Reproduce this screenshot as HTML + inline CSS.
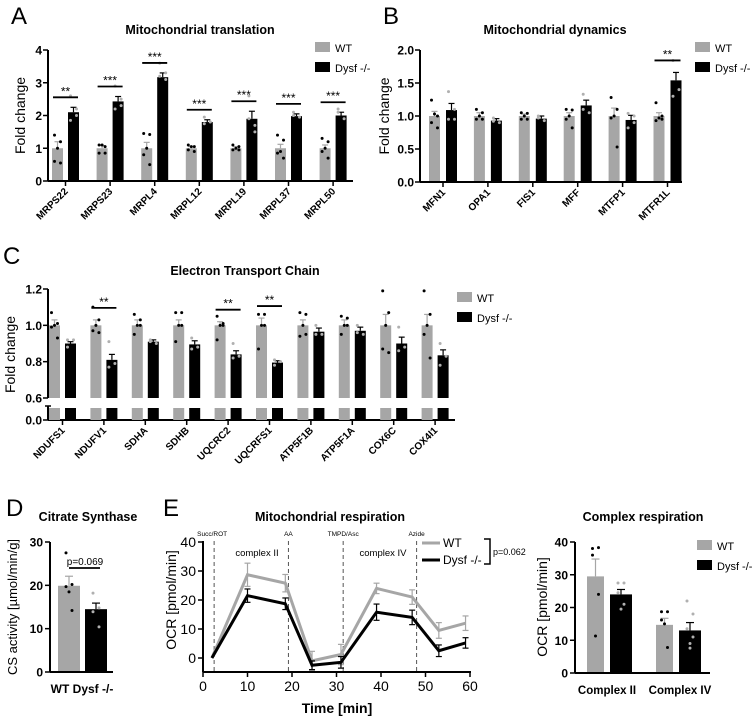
<!DOCTYPE html>
<html><head><meta charset="utf-8"><style>
html,body{margin:0;padding:0;background:#fff}
svg{display:block}
text{font-family:"Liberation Sans Narrow","Liberation Sans",sans-serif}
</style></head><body>
<svg id="fig" width="753" height="720" viewBox="0 0 753 720"></svg>
<script>
// ---------- Data ----------
const catsA=["MRPS22","MRPS23","MRPL4","MRPL12","MRPL19","MRPL37","MRPL50"];
const wtA=[1,1,1,1,1,1,1];
const wtErrA=[0.2,0.08,0.18,0.05,0.05,0.12,0.1];
const koA=[2.1,2.43,3.17,1.8,1.9,1.98,2.0];
const koErrA=[0.15,0.15,0.13,0.07,0.23,0.07,0.1];
const wtDotsA=[[1.4,1.2,0.6,0.55,1.0],[1.1,1.05,0.85,0.85,1.1],[1.45,1.42,0.8,0.5,1.0],[1.1,1.05,0.95,0.9,1.05],[1.1,1.05,0.95,0.95,1.0],[1.4,1.25,0.85,0.7,0.9],[1.3,1.2,0.9,0.7,1.0]];
const koDotsA=[[2.6,2.0,1.85,2.2],[2.9,2.3,2.2,2.5],[3.6,3.1,3.2,3.3],[1.95,1.8,1.75],[2.6,1.5,1.9,1.7],[2.1,1.95,2.0],[2.2,1.9,2.1]];
const sigA=["**","***","***","***","***","***","***"];
const ticksA=[0,1,2,3,4];

const catsB=["MFN1","OPA1","FIS1","MFF","MTFP1","MTFR1L"];
const wtB=[1,1,1,1,1,1];
const wtErrB=[0.07,0.05,0.03,0.05,0.12,0.05];
const koB=[1.09,0.93,0.96,1.16,0.94,1.54];
const koErrB=[0.1,0.03,0.04,0.08,0.07,0.12];
const wtDotsB=[[1.24,1.0,0.9,0.82,1.03],[1.1,1.05,0.95,0.95,1.0],[1.05,1.04,0.95,0.95,1.0],[1.1,1.09,0.95,0.82,1.0],[1.28,1.1,0.97,0.53,1.0],[1.2,1.0,0.93,0.95,0.97]];
const koDotsB=[[1.37,0.95,0.95,1.1],[0.97,0.9,0.92],[1.0,0.93,0.97],[1.33,1.05,1.1],[1.04,0.9,0.82,1.0],[1.84,1.4,1.3]];
const sigB=["","","","","","**"];
const ticksB=[0,0.5,1.0,1.5,2.0];

const catsC=["NDUFS1","NDUFV1","SDHA","SDHB","UQCRC2","UQCRFS1","ATP5F1B","ATP5F1A","COX6C","COX4I1"];
const wtC=[1,1,1,1,1,1,1,1,1,1];
const wtErrC=[0.03,0.03,0.03,0.03,0.02,0.04,0.03,0.03,0.06,0.06];
const koC=[0.90,0.81,0.91,0.895,0.84,0.795,0.965,0.97,0.90,0.835];
const koErrC=[0.01,0.03,0.01,0.02,0.02,0.01,0.02,0.02,0.035,0.03];
const wtDotsC=[[1.07,1.01,0.99,0.93,1.0],[1.1,1.03,0.97,0.96,1.0],[1.06,1.03,0.95,1.0,1.0],[1.07,1.07,0.91,1.0,1.0],[1.05,1.01,0.92,1.0,1.0],[1.06,1.06,0.87,1.0,1.0],[1.07,1.06,0.94,0.95,1.0],[1.05,1.04,0.95,1.0,1.0],[1.19,1.07,0.87,0.85,1.0],[1.19,1.06,0.95,0.82,1.0]];
const koDotsC=[[0.92,0.92,0.88],[0.91,0.79,0.77],[0.92,0.9,0.91],[0.93,0.88,0.87],[0.9,0.83,0.82],[0.81,0.8,0.78],[1.0,0.95,0.95],[1.0,0.95,0.96],[0.99,0.88,0.86],[0.9,0.83,0.78]];
const sigC=["","**","","","**","**","","","",""];
const ticksC=[0.6,0.8,1.0,1.2];

const catsD=["WT","Dysf -/-"];
const valD=[19.9,14.5];
const errD=[2.2,1.4];
const dotsD=[[27.5,20.2,19.7,14.2,18.5],[18.2,14.8,13.9,10.4]];
const ticksD=[0,10,20,30];

const timeE=[2,10,18.5,24.5,31,39,47,53,59];
const wtE=[0,28.7,25.8,-1,1.2,24,21,9.5,12];
const wtErrE=[0,4,3,3.3,3.5,1.8,2.5,2.7,2.5];
const koE=[0,21.5,18.7,-2.5,-1.5,15.8,14,2.5,5.2];
const koErrE=[0,2.3,2,1.5,2,2.8,2.5,2,1.8];
const injE=[2.5,19.2,31.5,48];
const injLabE=["Succ/ROT","AA","TMPD/Asc","Azide"];
const ticksEy=[0,10,20,30,40];
const ticksEx=[0,10,20,30,40,50,60];

const catsF=["Complex II","Complex IV"];
const wtF=[29.5,14.7];
const wtErrF=[5.3,2.0];
const koF=[24,13];
const koErrF=[1.5,2.4];
const wtDotsF=[[38,38.3,36,24,11.3],[18.7,18.7,16.2,7.8,15]];
const koDotsF=[[27.5,27.5,24.5,21,19.5],[22,18,13.5,11,9,7.6]];
const ticksF=[0,10,20,30,40];

// ---------- helpers ----------
const NS="http://www.w3.org/2000/svg";
const svg=document.getElementById('fig');
function mk(tag,attrs,parent,txt){const e=document.createElementNS(NS,tag);for(const k in attrs)e.setAttribute(k,attrs[k]);if(txt!==undefined)e.textContent=txt;(parent||svg).appendChild(e);return e;}
function grp(name){const g=mk('g',{});return g;}
const GRAY="#a6a6a6";

function legend(g,x,y){
  const a=mk('rect',{x:x,y:y,width:15,height:10,fill:GRAY},g);
  
  const t1=mk('text',{x:x+20,y:y+10,'font-size':11},g,'WT');
  
  const b=mk('rect',{x:x,y:y+20,width:15,height:10,fill:'#000'},g);
  
  const t2=mk('text',{x:x+20,y:y+30,'font-size':11},g,'Dysf -/-');
  
}
function errBar(g,cx,yTop,yVal,col,w){
  mk('line',{x1:cx,x2:cx,y1:yVal,y2:yTop,stroke:col,'stroke-width':1.2},g);
  mk('line',{x1:cx-w,x2:cx+w,y1:yTop,y2:yTop,stroke:col,'stroke-width':1.2},g);
}
function dots(g,cx,vals,ys,col){
  vals.forEach((v,i)=>{const off=[-3,3,-3,3,0,0][i%6];
    const d=mk('circle',{cx:cx+off,cy:ys(v),r:1.5,fill:col},g);
    });
}

function barPanel(o){
  const g=grp(o.name);
  const sb=o.scaleBase||o.yBase;
  const ys=v=>o.y0+(o.yMax-v)/(o.yMax-o.yMin)*(sb-o.y0);
  o.cats.forEach((c,i)=>{
    const cx=o.gx0+i*o.gsp;
    const wx=cx-o.bw-o.gap/2, kx=cx+o.gap/2;
    const base=sb;
    const r1=mk('rect',{x:wx,y:ys(o.wt[i]),width:o.bw,height:base-ys(o.wt[i]),fill:GRAY},g);
    
    const r2=mk('rect',{x:kx,y:ys(o.ko[i]),width:o.bw,height:base-ys(o.ko[i]),fill:'#000'},g);
    
    errBar(g,wx+o.bw/2,ys(o.wt[i]+o.wtErr[i]),ys(o.wt[i]),GRAY,3);
    errBar(g,kx+o.bw/2,ys(o.ko[i]+o.koErr[i]),ys(o.ko[i]),'#000',3);
    dots(g,wx+o.bw/2,o.wtDots[i],ys,'#000');
    dots(g,kx+o.bw/2,o.koDots[i],ys,'#b0b0b0');
    if(o.sig&&o.sig[i]){
      const top=Math.max(o.wt[i]+o.wtErr[i],o.ko[i]+o.koErr[i]);
      const sy=ys(top)-o.sigOff;
      const sl=mk('line',{x1:wx+1,x2:kx+o.bw-1,y1:sy,y2:sy,stroke:'#000','stroke-width':1.8},g);
      
      const st=mk('text',{x:cx,y:sy-2,'font-size':12,'text-anchor':'middle'},g,o.sig[i]);
      
    }
    const axY=o.yBase;
    mk('line',{x1:cx,x2:cx,y1:axY,y2:axY+5,stroke:'#000','stroke-width':1.5},g);
    const lt=mk('text',{x:cx+3,y:axY+11,'font-size':10,'font-weight':'bold','text-anchor':'end',transform:`rotate(-45 ${cx+3} ${axY+11})`},g,c);
    
  });
  mk('line',{x1:o.ax,x2:o.ax,y1:o.y0,y2:o.yAxisEnd||o.yBase,stroke:'#000','stroke-width':2},g);
  mk('line',{x1:o.ax,x2:o.axEnd,y1:o.yBase,y2:o.yBase,stroke:'#000','stroke-width':2},g);
  o.ticks.forEach((t,i)=>{const y=ys(t);
    mk('line',{x1:o.ax-5,x2:o.ax,y1:y,y2:y,stroke:'#000','stroke-width':1.5},g);
    const tl=mk('text',{x:o.ax-6,y:y+4.5,'font-size':12,'font-weight':'bold','text-anchor':'end'},g,o.tickLab?o.tickLab[i]:String(t));
    });
  const my=(o.y0+o.yBase)/2;
  const yt=mk('text',{x:o.ytX,y:my,'font-size':14,'text-anchor':'middle',transform:`rotate(-90 ${o.ytX} ${my})`},g,o.yTitle);
  
  const ti=mk('text',{x:o.tx,y:o.ty,'font-size':12.5,'font-weight':'bold','text-anchor':'middle'},g,o.title);
  
  const pl=mk('text',{x:o.lx,y:o.ly,'font-size':24},g,o.letter);
  
  legend(g,o.legX,o.legY);
  return {g,ys};
}

// Panel A
barPanel({name:'panel-a',cats:catsA,wt:wtA,wtErr:wtErrA,ko:koA,koErr:koErrA,wtDots:wtDotsA,koDots:koDotsA,sig:sigA,
 ticks:ticksA,yMin:0,yMax:4,y0:50,yBase:181,ax:48,axEnd:353,gx0:65.5,gsp:44.6,bw:11,gap:5,sigOff:10,
 ytX:25,yTitle:'Fold change',title:'Mitochondrial translation',tx:200,ty:34,letter:'A',lx:11,ly:24,legX:315,legY:42});
// Panel B
barPanel({name:'panel-b',cats:catsB,wt:wtB,wtErr:wtErrB,ko:koB,koErr:koErrB,wtDots:wtDotsB,koDots:koDotsB,sig:sigB,
 ticks:ticksB,tickLab:['0.0','0.5','1.0','1.5','2.0'],yMin:0,yMax:2,y0:50,yBase:182,ax:420,axEnd:682,gx0:443,gsp:44.9,bw:11,gap:6,sigOff:12,
 ytX:389,yTitle:'Fold change',title:'Mitochondrial dynamics',tx:555,ty:34,letter:'B',lx:383,ly:24,legX:695,legY:42});
// Panel C (broken axis)
(function(){
  const r=barPanel({name:'panel-c',cats:catsC,wt:wtC,wtErr:wtErrC,ko:koC,koErr:koErrC,wtDots:wtDotsC,koDots:koDotsC,sig:sigC,
   ticks:ticksC,tickLab:['0.6','0.8','1.0','1.2'],yMin:0.6,yMax:1.2,y0:289,yBase:420,scaleBase:398,yAxisEnd:398,ax:48,axEnd:455,gx0:62.5,gsp:41.4,bw:11,gap:5,sigOff:12,
   ytX:15,yTitle:'Fold change',title:'Electron Transport Chain',tx:245,ty:275,letter:'C',lx:3,ly:264,legX:457,legY:292});
  const g=r.g;
  catsC.forEach((c,i)=>{const cx=62.5+i*41.4;
    mk('rect',{x:cx-11-2.5,y:408,width:11,height:12,fill:GRAY},g);
    mk('rect',{x:cx+2.5,y:408,width:11,height:12,fill:'#000'},g);});
  mk('line',{x1:48,x2:48,y1:406,y2:420,stroke:'#000','stroke-width':2},g);
  mk('line',{x1:45,x2:51,y1:406,y2:406,stroke:'#000','stroke-width':1.5},g);
  mk('line',{x1:43,x2:48,y1:420,y2:420,stroke:'#000','stroke-width':1.5},g);
  const z=mk('text',{x:42,y:424.5,'font-size':12,'font-weight':'bold','text-anchor':'end'},g,'0.0');
  
})();

// Panel D
(function(){
  const g=grp('panel-d');
  const ys=v=>672-v*(130/30);
  const xs=[58,85];
  valD.forEach((v,i)=>{
    const r=mk('rect',{x:xs[i],y:ys(v),width:22,height:672-ys(v),fill:i?'#000':GRAY},g);
    
    errBar(g,xs[i]+11,ys(v+errD[i]),ys(v),i?'#000':GRAY,4);
    dots(g,xs[i]+11,dotsD[i],ys,i?'#b0b0b0':'#000');
  });
  mk('line',{x1:50,x2:50,y1:542,y2:672,stroke:'#000','stroke-width':2},g);
  mk('line',{x1:50,x2:113,y1:672,y2:672,stroke:'#000','stroke-width':2},g);
  ticksD.forEach(t=>{mk('line',{x1:45,x2:50,y1:ys(t),y2:ys(t),stroke:'#000','stroke-width':1.5},g);
    const tl=mk('text',{x:43,y:ys(t)+4.5,'font-size':12,'font-weight':'bold','text-anchor':'end'},g,String(t));
    });
  const sl=mk('line',{x1:69,x2:100,y1:568,y2:568,stroke:'#000','stroke-width':1.8},g);
  
  const pt=mk('text',{x:85,y:565,'font-size':10,'text-anchor':'middle'},g,'p=0.069');
  
  const xl=mk('text',{x:82,y:693,'font-size':12,'font-weight':'bold','text-anchor':'middle'},g,'WT Dysf -/-');
  
  const yt=mk('text',{x:17,y:607,'font-size':13,'text-anchor':'middle',transform:'rotate(-90 17 607)'},g,'CS activity [µmol/min/g]');
  
  const ti=mk('text',{x:88,y:521,'font-size':12.5,'font-weight':'bold','text-anchor':'middle'},g,'Citrate Synthase');
  
  const pl=mk('text',{x:6,y:516,'font-size':24},g,'D');
  
})();

// Panel E line chart
(function(){
  const g=grp('panel-e');
  const xs=t=>203+t*(267/60);
  const ys=v=>658-v*(116/40);
  injE.forEach((t,i)=>{
    mk('line',{x1:xs(t),x2:xs(t),y1:541,y2:672,stroke:'#555','stroke-width':1,'stroke-dasharray':'4,3'},g);
    const il=mk('text',{x:xs(t)+(i==0?-2:0),y:536,'font-size':6.5,'text-anchor':'middle'},g,injLabE[i]);
    
  });
  const c2=mk('text',{x:257,y:556,'font-size':9.5,'text-anchor':'middle'},g,'complex II');
  
  const c4=mk('text',{x:383,y:556,'font-size':9.5,'text-anchor':'middle'},g,'complex IV');
  
  [[wtE,wtErrE,GRAY,'line-wt'],[koE,koErrE,'#000','line-dysf']].forEach(([v,e,col,nm])=>{
    v.forEach((y,i)=>{if(e[i]>0){const cx=xs(timeE[i]);
      mk('line',{x1:cx,x2:cx,y1:ys(y-e[i]),y2:ys(y+e[i]),stroke:col,'stroke-width':1.2},g);
      mk('line',{x1:cx-3,x2:cx+3,y1:ys(y-e[i]),y2:ys(y-e[i]),stroke:col,'stroke-width':1.2},g);
      mk('line',{x1:cx-3,x2:cx+3,y1:ys(y+e[i]),y2:ys(y+e[i]),stroke:col,'stroke-width':1.2},g);}});
    const p=mk('polyline',{points:v.map((y,i)=>xs(timeE[i])+','+ys(y)).join(' '),fill:'none',stroke:col,'stroke-width':3},g);
    
  });
  mk('line',{x1:203,x2:203,y1:541,y2:672,stroke:'#000','stroke-width':2},g);
  mk('line',{x1:203,x2:471,y1:672,y2:672,stroke:'#000','stroke-width':2},g);
  ticksEy.forEach(t=>{mk('line',{x1:198,x2:203,y1:ys(t),y2:ys(t),stroke:'#000','stroke-width':1.5},g);
    const tl=mk('text',{x:196,y:ys(t)+5,'font-size':14,'text-anchor':'end'},g,String(t));
    });
  ticksEx.forEach(t=>{mk('line',{x1:xs(t),x2:xs(t),y1:672,y2:677,stroke:'#000','stroke-width':1.5},g);
    const tl=mk('text',{x:xs(t),y:691,'font-size':14,'text-anchor':'middle'},g,String(t));
    });
  const xt=mk('text',{x:337,y:713,'font-size':14,'font-weight':'bold','text-anchor':'middle'},g,'Time [min]');
  
  const yt=mk('text',{x:176,y:600,'font-size':14,'text-anchor':'middle',transform:'rotate(-90 176 600)'},g,'OCR [pmol/min]');
  
  const ti=mk('text',{x:330,y:521,'font-size':12.5,'font-weight':'bold','text-anchor':'middle'},g,'Mitochondrial respiration');
  
  const pl=mk('text',{x:163,y:516,'font-size':24},g,'E');
  
  const l1=mk('line',{x1:422,x2:440,y1:543,y2:543,stroke:GRAY,'stroke-width':3},g);
  
  const t1=mk('text',{x:443,y:547,'font-size':12},g,'WT');
  
  const l2=mk('line',{x1:422,x2:440,y1:560,y2:560,stroke:'#000','stroke-width':3},g);
  
  const t2=mk('text',{x:443,y:564,'font-size':12},g,'Dysf -/-');
  
  mk('polyline',{points:'484,539 490,539 490,564 484,564',fill:'none',stroke:'#000','stroke-width':1.5},g);
  const pv=mk('text',{x:493,y:555,'font-size':9},g,'p=0.062');
  
})();

// Panel F: complex respiration
(function(){
  const g=grp('panel-complex-respiration');
  const ys=v=>673-v*(131/40);
  const gx=[609,678];
  catsF.forEach((c,i)=>{
    const wx=gx[i]-22,kx=gx[i]+1;
    const r1=mk('rect',{x:wx,y:ys(wtF[i]),width:17,height:673-ys(wtF[i]),fill:GRAY},g);
    
    const r2=mk('rect',{x:kx,y:ys(koF[i]),width:22,height:673-ys(koF[i]),fill:'#000'},g);
    
    errBar(g,wx+8.5,ys(wtF[i]+wtErrF[i]),ys(wtF[i]),GRAY,4);
    errBar(g,kx+11,ys(koF[i]+koErrF[i]),ys(koF[i]),'#000',4);
    dots(g,wx+8.5,wtDotsF[i],ys,'#000');
    dots(g,kx+11,koDotsF[i],ys,'#b0b0b0');
    const lt=mk('text',{x:gx[i]+(i?2:-2),y:694,'font-size':11.5,'font-weight':'bold','text-anchor':'middle'},g,c);
    
  });
  mk('line',{x1:575,x2:575,y1:542,y2:673,stroke:'#000','stroke-width':2},g);
  mk('line',{x1:575,x2:710,y1:673,y2:673,stroke:'#000','stroke-width':2},g);
  ticksF.forEach(t=>{mk('line',{x1:570,x2:575,y1:ys(t),y2:ys(t),stroke:'#000','stroke-width':1.5},g);
    const tl=mk('text',{x:568,y:ys(t)+4.5,'font-size':12,'font-weight':'bold','text-anchor':'end'},g,String(t));
    });
  const yt=mk('text',{x:547,y:607,'font-size':14,'text-anchor':'middle',transform:'rotate(-90 547 607)'},g,'OCR [pmol/min]');
  
  const ti=mk('text',{x:643,y:521,'font-size':12.5,'font-weight':'bold','text-anchor':'middle'},g,'Complex respiration');
  
  legend(g,697,540);
})();
</script>
</body></html>
